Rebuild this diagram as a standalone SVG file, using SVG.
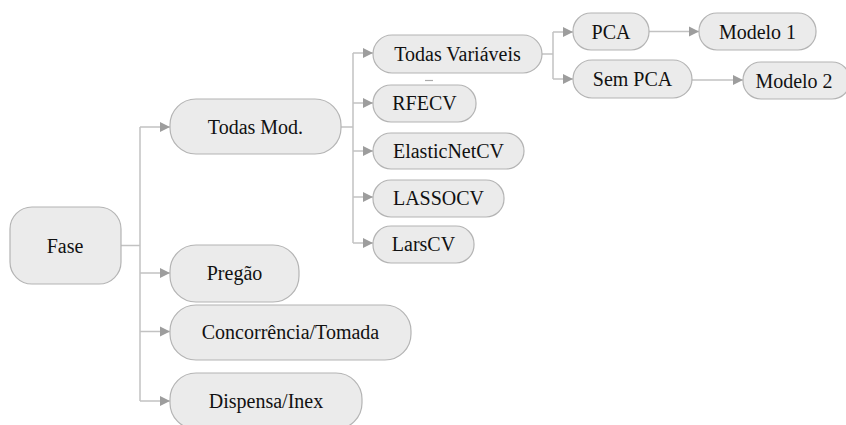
<svg xmlns="http://www.w3.org/2000/svg" width="846" height="425" viewBox="0 0 846 425">
<style>
.n{fill:#ebebeb;stroke:#b4b4b4;stroke-width:1.2}
text{font-family:'Liberation Serif','DejaVu Serif','Times New Roman',serif;font-size:20px;fill:#111;text-anchor:middle}
.c{fill:none;stroke:#c2c2c2;stroke-width:1.5}
</style>
<defs>
<marker id="ah" markerUnits="userSpaceOnUse" markerWidth="12" markerHeight="12" refX="11" refY="6" orient="auto">
<path d="M1,1 L11,6 L1,11 z" fill="#9d9d9d"/>
</marker>
</defs>
<rect width="846" height="425" fill="#fff"/>
<g id="connectors">
<path class="c" d="M121,245.5 H140 M140,127 V401"/>
<path class="c" d="M140,127 H170" marker-end="url(#ah)"/>
<path class="c" d="M140,273 H170" marker-end="url(#ah)"/>
<path class="c" d="M140,331.5 H170" marker-end="url(#ah)"/>
<path class="c" d="M140,401 H170" marker-end="url(#ah)"/>
<path class="c" d="M341,127 H353 M353,53 V243"/>
<path class="c" d="M353,53 H373" marker-end="url(#ah)"/>
<path class="c" d="M353,103 H373" marker-end="url(#ah)"/>
<path class="c" d="M353,151 H373" marker-end="url(#ah)"/>
<path class="c" d="M353,197 H373" marker-end="url(#ah)"/>
<path class="c" d="M353,243 H373" marker-end="url(#ah)"/>
<path class="c" d="M542,54 H553 M553,32 V79"/>
<path class="c" d="M553,32 H573" marker-end="url(#ah)"/>
<path class="c" d="M553,79 H573" marker-end="url(#ah)"/>
<path class="c" d="M649,31.5 H699" marker-end="url(#ah)"/>
<path class="c" d="M692,80 H743" marker-end="url(#ah)"/>
<path d="M425,80.5 H433" stroke="#aaa" stroke-width="1.2"/>
</g>
<g font-family="'Liberation Serif', 'DejaVu Serif', serif" font-size="20" text-anchor="middle">
<g id="fase"><rect class="n" x="10" y="207" width="111" height="77" rx="22"/><text x="65" y="252.5">Fase</text></g>
<g id="todas-mod"><rect class="n" x="170" y="99" width="171" height="55" rx="26"/><text x="255.5" y="133.5">Todas Mod.</text></g>
<g id="pregao"><rect class="n" x="170" y="245" width="129" height="57" rx="26"/><text x="234.5" y="280">Pregão</text></g>
<g id="concorrencia"><rect class="n" x="170" y="305" width="241" height="55" rx="26"/><text x="290.5" y="339">Concorrência/Tomada</text></g>
<g id="dispensa"><rect class="n" x="170" y="373" width="192" height="56" rx="26"/><text x="266" y="408">Dispensa/Inex</text></g>
<g id="todas-var"><rect class="n" x="373" y="35" width="169" height="38" rx="19"/><text x="457.5" y="61">Todas Variáveis</text></g>
<g id="rfecv"><rect class="n" x="373" y="85" width="103" height="37" rx="18"/><text x="424.5" y="110">RFECV</text></g>
<g id="elasticnet"><rect class="n" x="373" y="133" width="151" height="36" rx="18"/><text x="448.5" y="158">ElasticNetCV</text></g>
<g id="lassocv"><rect class="n" x="373" y="180" width="131" height="37" rx="18"/><text x="438.5" y="205">LASSOCV</text></g>
<g id="larscv"><rect class="n" x="373" y="226" width="101" height="37" rx="18"/><text x="423.5" y="251">LarsCV</text></g>
<g id="pca"><rect class="n" x="573" y="13" width="76" height="37" rx="18"/><text x="611" y="38.5">PCA</text></g>
<g id="modelo1"><rect class="n" x="699" y="13" width="117" height="37" rx="18"/><text x="757.5" y="38.5">Modelo 1</text></g>
<g id="sem-pca"><rect class="n" x="573" y="60" width="119" height="38" rx="19"/><text x="632.5" y="86">Sem PCA</text></g>
<g id="modelo2"><rect class="n" x="743" y="62" width="107" height="37" rx="18"/><text x="794" y="87.5">Modelo 2</text></g>
</g>
</svg>
